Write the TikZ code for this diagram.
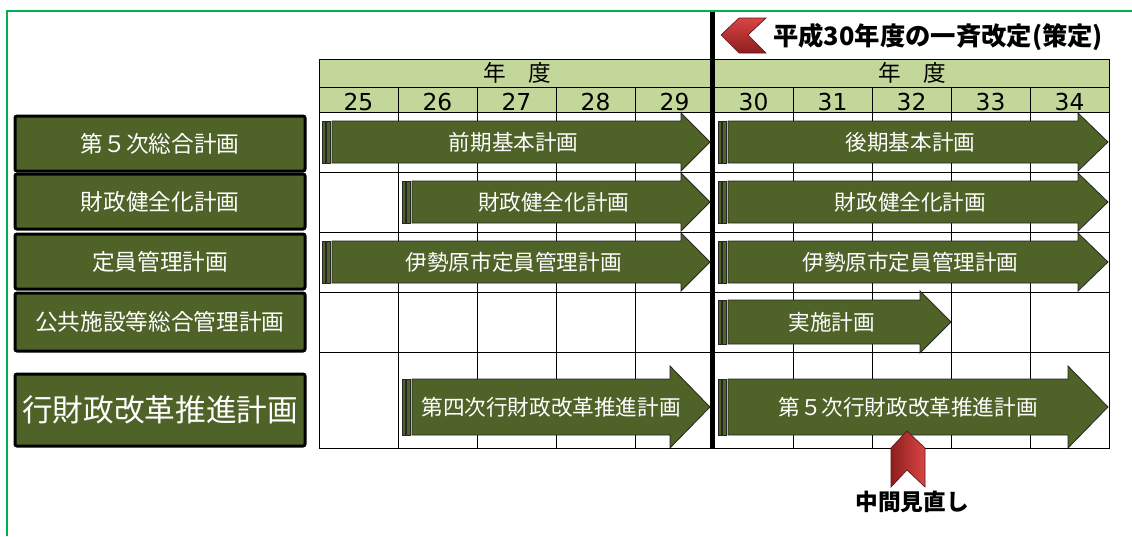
\documentclass[tikz,border=0pt]{standalone}
\usepackage{fontspec}
\setmainfont{Noto Sans CJK JP}
\newfontfamily\numfont{DejaVu Sans}
\definecolor{olivegr}{HTML}{4F6228}
\definecolor{hdrgr}{HTML}{C4D79B}
\definecolor{framegr}{HTML}{00B050}
\definecolor{redlt}{HTML}{D94545}
\definecolor{reddk}{HTML}{8E1E1E}
\newcommand\plarrow[8]{%
  \filldraw[arr] (#2,#4-#5) rectangle ++(3,2*#5);
  \filldraw[arr] (#2+4.5,#4-#5) rectangle ++(4,2*#5);
  \filldraw[arr] (#2+10,#4-#5) -- (#3-#7,#4-#5) -- (#3-#7,#4-#6) -- (#3,#4)
     -- (#3-#7,#4+#6) -- (#3-#7,#4+#5) -- (#2+10,#4+#5) -- cycle;
  \node[arrtext] (#1) at ({(#2+10+#3-#7/2)/2},#4) {#8};
}
\begin{document}
\begin{tikzpicture}[x=0.75pt,y=-0.75pt]
\tikzset{
 lbox/.style={draw=black, line width=2.25pt, fill=olivegr, rounded corners=1.5pt, text=white,
   minimum width=217.5pt, inner sep=0pt, font=\fontsize{17}{20}\selectfont},
 arr/.style={fill=olivegr, draw=black!85, line width=0.6pt},
 arrtext/.style={text=white, font=\fontsize{16.2}{19}\selectfont, inner sep=0pt},
 gridln/.style={draw=black, line width=0.75pt},
 yr/.style={font=\numfont\fontsize{17.5}{20}\selectfont, inner sep=0pt},
 hdtext/.style={font=\fontsize{17}{20}\selectfont, inner sep=0pt},
 bigtext/.style={font=\bfseries\fontsize{19}{22}\selectfont, inner sep=0pt},
}
\useasboundingbox (0,0) rectangle (1132,536);
\fill[white] (0,0) rectangle (1132,536);
\draw[framegr, line width=1.5pt] (7,536) -- (7,11) -- (1132,11);

% header
\filldraw[fill=hdrgr, gridln] (319,59) rectangle (1109,112);
\draw[gridln] (319,87) -- (1109,87);
\node[hdtext] (hdl) at (517,73) {年　度};
\node[hdtext] (hdr) at (912,73) {年　度};
\foreach \i [count=\k from 0] in {25,...,34}
  \node[yr] (y\i) at (358.5+79*\k,102) {\i};

% grid body
\draw[gridln] (319,112) rectangle (1109,448);
\foreach \yy in {172,232,292,352}
  \draw[gridln] (319,\yy) -- (1109,\yy);
\foreach \xx in {398,477,556,635,793,872,951,1030}
  \draw[gridln] (\xx,87) -- (\xx,448);
\draw[gridln] (712,87) -- (712,448);

% thick divider
\draw[line width=3.75pt] (712,12) -- (712,449);

% left boxes
\node[lbox, minimum height=41.25pt] (b1) at (160,143.5) {第５次総合計画};
\node[lbox, minimum height=41.25pt] (b2) at (160,201.5) {財政健全化計画};
\node[lbox, minimum height=41.25pt] (b3) at (160,261.5) {定員管理計画};
\node[lbox, minimum height=43.5pt] (b4) at (160,322) {公共施設等総合管理計画};
\node[lbox, minimum height=54pt, font=\fontsize{23}{26}\selectfont] (b5) at (160,410) {行財政改革推進計画};

% arrows
\plarrow{a1l}{322}{710}{142}{21}{29}{29}{前期基本計画}
\plarrow{a1r}{718}{1108}{142}{21}{29}{30}{後期基本計画}
\plarrow{a2l}{402}{710}{202}{21}{29}{29}{財政健全化計画}
\plarrow{a2r}{718}{1108}{202}{21}{29}{30}{財政健全化計画}
\plarrow{a3l}{322}{710}{262}{21}{29}{29}{伊勢原市定員管理計画}
\plarrow{a3r}{718}{1108}{262}{21}{29}{30}{伊勢原市定員管理計画}
\plarrow{a4}{718}{951}{322}{22}{31}{31}{実施計画}
\plarrow{a5l}{402}{710}{407}{28}{41}{40}{第四次行財政改革推進計画}
\plarrow{a5r}{718}{1108}{407}{28}{41}{40}{第５次行財政改革推進計画}

% top chevron and label
\shade[top color=redlt, bottom color=reddk, draw=reddk!70!black, line width=0.5pt]
  (721,35) -- (739,18) -- (766,18) -- (748,35) -- (766,53) -- (739,53) -- cycle;
\node[bigtext, anchor=west] (rev) at (773,37) {平成30年度の一斉改定(策定)};

% bottom chevron and label
\shade[left color=reddk, right color=redlt, draw=reddk!70!black, line width=0.5pt]
  (907,431) -- (925,448) -- (925,487) -- (907,470) -- (891,487) -- (891,448) -- cycle;
\node[font=\bfseries\fontsize{17}{20}\selectfont, inner sep=0pt] (mid) at (912,502) {中間見直し};
\end{tikzpicture}
\end{document}
